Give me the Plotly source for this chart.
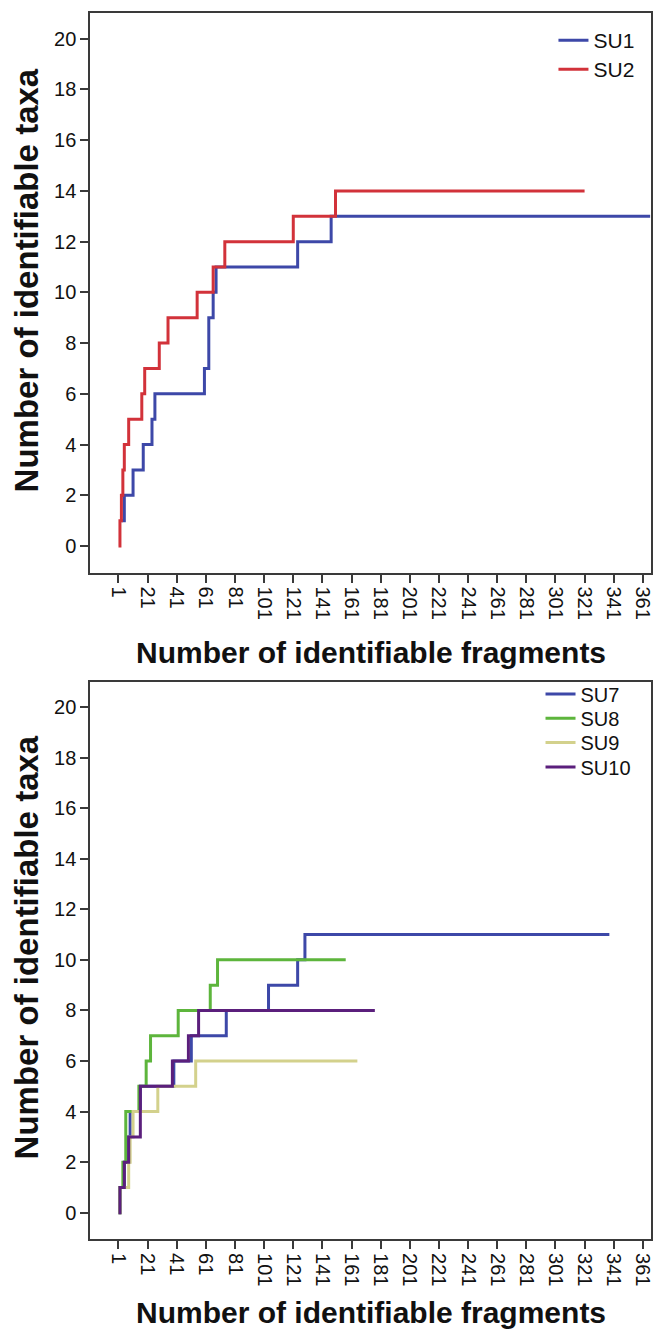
import plotly.graph_objects as go

# ---------------- data ----------------
x_ticks = [1, 21, 41, 61, 81, 101, 121, 141, 161, 181, 201, 221, 241, 261, 281, 301, 321, 341, 361]
y_ticks = [0, 2, 4, 6, 8, 10, 12, 14, 16, 18, 20]

# top panel (fragments, cumulative taxa)
su1_x = [3, 5, 11, 18, 24, 26, 60, 63, 66, 68, 124, 147, 366]
su1_y = [1, 2, 3, 4, 5, 6, 7, 9, 10, 11, 12, 13, 13]
su2_x = [1, 2, 3, 4, 5, 8, 17, 19, 29, 35, 55, 66, 74, 121, 150, 321]
su2_y = [0, 1, 2, 3, 4, 5, 6, 7, 8, 9, 10, 11, 12, 13, 14, 14]

# bottom panel
su7_x = [1, 2, 5, 8, 9, 16, 39, 51, 75, 104, 124, 129, 338]
su7_y = [0, 1, 2, 3, 4, 5, 6, 7, 8, 9, 10, 11, 11]
su8_x = [1, 2, 4, 6, 15, 20, 23, 42, 64, 69, 157]
su8_y = [0, 1, 2, 4, 5, 6, 7, 8, 9, 10, 10]
su9_x = [1, 2, 8, 9, 11, 28, 54, 165]
su9_y = [0, 1, 2, 3, 4, 5, 6, 6]
su10_x = [1, 2, 5, 8, 16, 38, 49, 56, 177]
su10_y = [0, 1, 2, 3, 5, 6, 7, 8, 8]

x_title = "Number of identifiable fragments"
y_title = "Number of identifiable taxa"

# ---------------- figure ----------------
W, H = 656, 1332
FONT = "Liberation Sans, Arial, Helvetica, sans-serif"


def px(v):
    return v / W


def py(v):
    return 1 - v / H


fig = go.Figure()

# (name, x, y, colour, xaxis, yaxis, legend id, legend centre y px, legend font)
series = [
    ("SU1", su1_x, su1_y, "#3D48A8", "x", "y", "legend", 40.5, 21),
    ("SU2", su2_x, su2_y, "#D2323A", "x", "y", "legend2", 69.5, 21),
    ("SU7", su7_x, su7_y, "#3D48A8", "x2", "y2", "legend3", 694, 20),
    ("SU8", su8_x, su8_y, "#5DB53C", "x2", "y2", "legend4", 718.3, 20),
    ("SU9", su9_x, su9_y, "#D3D18C", "x2", "y2", "legend5", 742.6, 20),
    ("SU10", su10_x, su10_y, "#5B1F7C", "x2", "y2", "legend6", 767, 20),
]

legends = {}
for name, xs, ys, color, xa, ya, lg, ly, lf in series:
    fig.add_trace(go.Scatter(
        x=xs, y=ys, name=name, mode="lines",
        line=dict(color=color, width=3, shape="hv"),
        xaxis=xa, yaxis=ya, legend=lg))
    left = 556 if xa == "x" else 543
    legends[lg] = dict(x=px(left), y=py(ly), xanchor="left", yanchor="middle",
                       bgcolor="rgba(0,0,0,0)", borderwidth=0,
                       font=dict(family=FONT, size=lf, color="#111"))

xdom = [px(90.5), px(654)]
top_dom = [py(572.7), py(13.3)]
bot_dom = [py(1239.3), py(681.7)]

axis_common = dict(
    showline=True, mirror=True, linecolor="#3a3a3a", linewidth=1.6,
    ticks="outside", ticklen=8, tickwidth=1.6, tickcolor="#3a3a3a",
    showgrid=False, zeroline=False,
    tickfont=dict(family=FONT, size=20, color="#111"),
)
xr = [-18.5, 366.6]
yr = [-1.05, 21.0]

fig.update_layout(
    width=W, height=H,
    margin=dict(l=0, r=0, t=0, b=0),
    paper_bgcolor="white", plot_bgcolor="white",
    font=dict(family=FONT),
    xaxis=dict(domain=xdom, range=xr, anchor="y", tickvals=x_ticks,
               ticktext=[str(v) for v in x_ticks], tickangle=90,
               ticklabeloverflow="allow", **axis_common),
    yaxis=dict(domain=top_dom, range=yr, anchor="x", tickvals=y_ticks, **axis_common),
    xaxis2=dict(domain=xdom, range=xr, anchor="y2", tickvals=x_ticks,
                ticktext=[str(v) for v in x_ticks], tickangle=90,
                ticklabeloverflow="allow", **axis_common),
    yaxis2=dict(domain=bot_dom, range=yr, anchor="x2", tickvals=y_ticks, **axis_common),
    showlegend=True,
    **legends,
)

ann = []
for yc in (652, 1312):
    ann.append(dict(text="<b>%s</b>" % x_title, xref="paper", yref="paper",
                    x=(xdom[0] + xdom[1]) / 2, y=py(yc), xanchor="center", yanchor="middle",
                    showarrow=False, font=dict(family=FONT, size=30, color="#111")))
for yc in (280, 947):
    ann.append(dict(text="<b>%s</b>" % y_title, xref="paper", yref="paper",
                    x=px(26.5), y=py(yc), xanchor="center", yanchor="middle",
                    textangle=-90, showarrow=False,
                    font=dict(family=FONT, size=33, color="#111")))
fig.update_layout(annotations=ann)

fig.write_html(
    "out.html",
    config={"displayModeBar": False},
    post_script="document.body.style.margin='0';document.body.style.padding='0';"
                "document.body.style.overflow='hidden';",
)
